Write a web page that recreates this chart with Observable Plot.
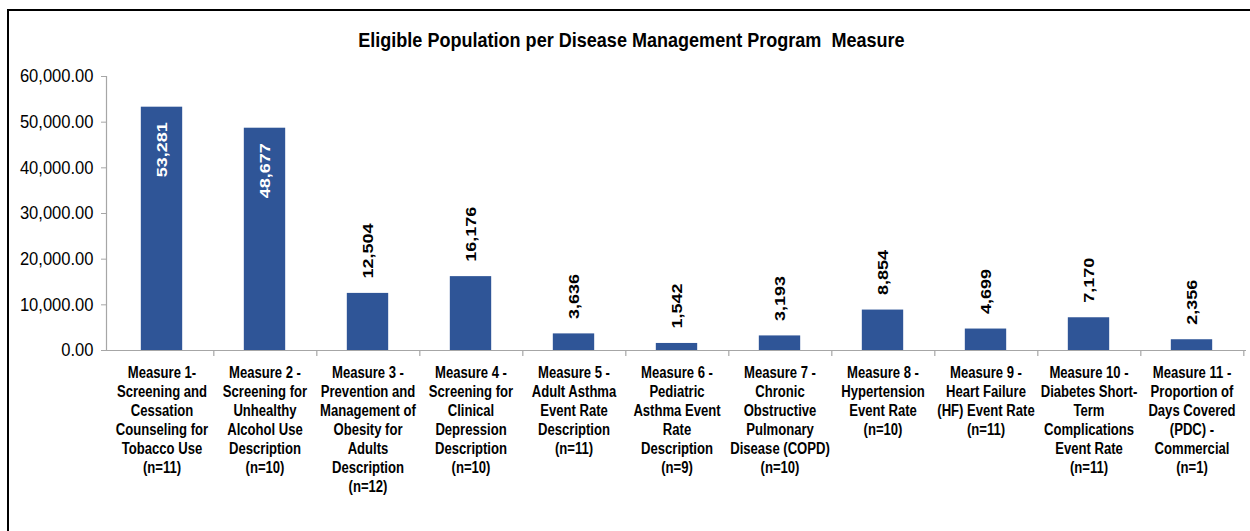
<!DOCTYPE html>
<html>
<head>
<meta charset="utf-8">
<script src="https://cdn.jsdelivr.net/npm/d3@7"></script>
<script src="https://cdn.jsdelivr.net/npm/@observablehq/plot@0.6"></script>
<style>
  html, body { margin: 0; padding: 0; background: #fff; overflow: hidden; width: 1250px; height: 531px; }
  #wrap { position: relative; width: 1250px; height: 531px; }
  #chart { position: absolute; left: 0; top: 0; }
  #title { position: absolute; left: 0; width: 1262px; top: 29.6px; text-align: center;
    font-family: "Liberation Sans", Arial, sans-serif; line-height: 20.5px;
    font-weight: bold; font-size: 20.5px; color: #000; white-space: pre; }
  #title span { display: inline-block; transform: scaleX(0.88); transform-origin: 50% 50%; }
  #frame { position: absolute; left: 7px; top: 9px; width: 1400px; height: 700px;
    border: 2px solid #000; box-sizing: border-box; pointer-events: none; }
</style>
</head>
<body>
<div id="wrap">
  <div id="chart"></div>
  <div id="title"><span>Eligible Population per Disease Management Program  Measure</span></div>
  <div id="frame"></div>
</div>
<script>
const categories = [
  "Measure 1-\nScreening and\nCessation\nCounseling for\nTobacco Use\n(n=11)",
  "Measure 2 -\nScreening for\nUnhealthy\nAlcohol Use\nDescription\n(n=10)",
  "Measure 3 -\nPrevention and\nManagement of\nObesity for\nAdults\nDescription\n(n=12)",
  "Measure 4 -\nScreening for\nClinical\nDepression\nDescription\n(n=10)",
  "Measure 5 -\nAdult Asthma\nEvent Rate\nDescription\n(n=11)",
  "Measure 6 -\nPediatric\nAsthma Event\nRate\nDescription\n(n=9)",
  "Measure 7 -\nChronic\nObstructive\nPulmonary\nDisease (COPD)\n(n=10)",
  "Measure 8 -\nHypertension\nEvent Rate\n(n=10)",
  "Measure 9 -\nHeart Failure\n(HF) Event Rate\n(n=11)",
  "Measure 10 -\nDiabetes Short-\nTerm\nComplications\nEvent Rate\n(n=11)",
  "Measure 11 -\nProportion of\nDays Covered\n(PDC) -\nCommercial\n(n=1)"
];
const values = [53281, 48677, 12504, 16176, 3636, 1542, 3193, 8854, 4699, 7170, 2356];
const yTicks = [0, 10000, 20000, 30000, 40000, 50000, 60000];

const data = categories.map((c, i) => ({cat: c, value: values[i]}));
const inside = data.filter(d => d.value > 40000);
const outside = data.filter(d => d.value <= 40000);

const W = 1250, H = 531;
const mL = 106, mR = 4, mT = 76, mB = 181;
const bw = (W - mL - mR) / categories.length;
const barW = 42;
const inset = (bw - barW) / 2;
const axisGray = "#A6A6A6";
const barColor = "#2F5597";
const font = '"Liberation Sans", Arial, sans-serif';
const perPx = 60000 / (H - mT - mB);

// render hook: scale each text glyph run (emulates the condensed/stretched look)
const squeeze = (sx, sy) => (index, scales, values, dims, ctx, next) => {
  const g = next(index, scales, values, dims, ctx);
  g.querySelectorAll("text").forEach(t => {
    t.setAttribute("transform", (t.getAttribute("transform") || "") + ` scale(${sx},${sy})`);
  });
  return g;
};

const chart = Plot.plot({
  width: W,
  height: H,
  marginLeft: mL,
  marginRight: mR,
  marginTop: mT,
  marginBottom: mB,
  style: {background: "transparent", overflow: "visible"},
  x: {domain: categories, padding: 0, axis: null},
  y: {domain: [0, 60000], axis: null},
  marks: [
    Plot.barY(data, {x: "cat", y: "value", fill: barColor, insetLeft: inset, insetRight: inset}),
    Plot.ruleY([0], {stroke: axisGray, strokeWidth: 1.2}),
    Plot.frame({anchor: "left", stroke: axisGray, strokeWidth: 1.2}),
    Plot.ruleX(categories, {x: d => d, y1: 0, y2: -6 * perPx, dx: bw / 2, stroke: axisGray, strokeWidth: 1.2}),
    Plot.axisY({
      ticks: yTicks,
      tickFormat: d3.format(",.2f"),
      tickSize: 5,
      tickPadding: 8,
      stroke: axisGray,
      fill: "#000",
      fontSize: 18.6,
      fontFamily: font,
      label: null
    }),
    Plot.text(outside, {
      x: "cat", y: "value", text: d => d3.format(",")(d.value),
      rotate: -90, textAnchor: "start", dy: -15,
      fontSize: 18, fontWeight: "bold", fontFamily: font, fill: "#000",
      render: squeeze(1, 0.85)
    }),
    Plot.text(inside, {
      x: "cat", y: "value", text: d => d3.format(",")(d.value),
      rotate: -90, textAnchor: "end", dy: 15,
      fontSize: 18, fontWeight: "bold", fontFamily: font, fill: "#fff",
      render: squeeze(1, 0.85)
    }),
    Plot.text(data, {
      x: "cat", y: 0, text: "cat",
      lineAnchor: "top", lineHeight: 19 / 17, dy: 13.6,
      fontSize: 17, fontWeight: "bold", fontFamily: font, fill: "#000",
      render: squeeze(0.77, 1)
    })
  ]
});

chart.querySelectorAll('g[aria-label="y-axis tick label"] text').forEach(t => {
  t.setAttribute("transform", (t.getAttribute("transform") || "") + " scale(0.89,1)");
});

document.getElementById("chart").appendChild(chart);
</script>
</body>
</html>
